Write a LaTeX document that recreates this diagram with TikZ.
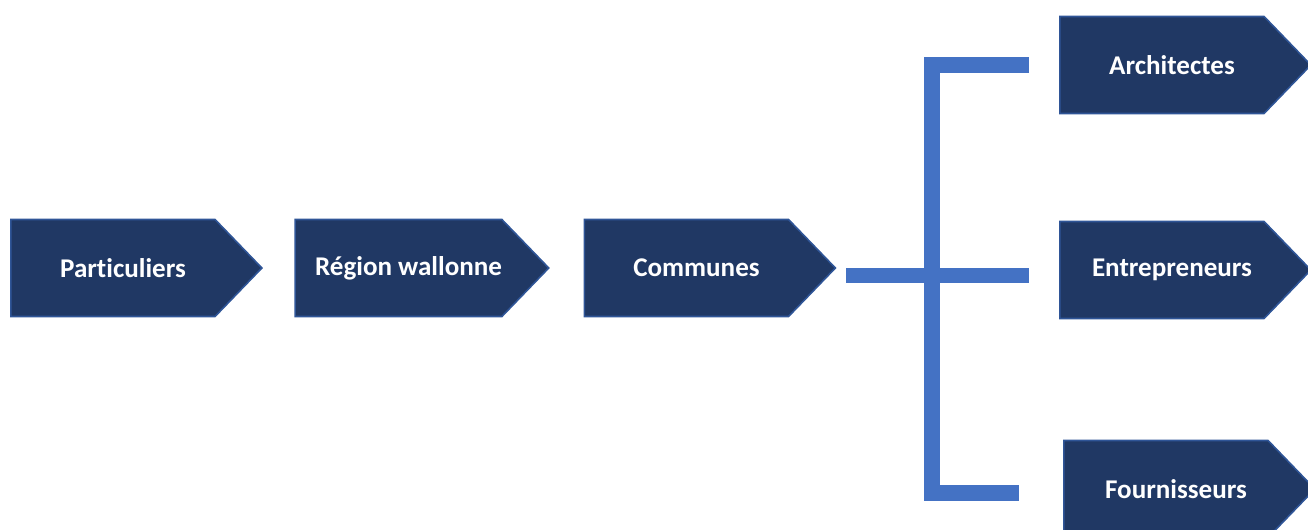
\documentclass[tikz,border=0pt]{standalone}
\usepackage{fontspec}
\setmainfont{Carlito}[Ligatures=NoCommon]
\usetikzlibrary{shapes.symbols,calc}
\definecolor{navy}{HTML}{203864}
\definecolor{navyedge}{HTML}{2F5597}
\definecolor{busblue}{HTML}{4472C4}

\begin{document}
\begin{tikzpicture}[
  x=0.02cm,y=-0.02cm,
  actor/.style={signal,signal to=east,signal pointer angle=92,draw=navyedge,line width=0.9pt,fill=navy,text=white,minimum width=5.02cm,minimum height=1.94cm,inner xsep=0pt,inner ysep=2pt,font=\fontsize{15.4}{18}\selectfont\bfseries,execute at begin node={\hspace*{0.4cm}}},
  bus/.style={draw=busblue,line width=0.32cm}
]
\useasboundingbox (0,0) rectangle (1308,530);
\node[actor] (part) at (113,268) {Particuliers};
\node[actor] (regw) at (398.5,268) {Région wallonne};
\node[actor] (comm) at (686.5,268) {Communes};
\node[actor] (arch) at (1162,65) {Architectes};
\node[actor] (entr) at (1162,270) {Entrepreneurs};
\node[actor] (four) at (1166,489) {Fournisseurs};

\coordinate (hubtop) at (932,65);
\coordinate (hubbot) at (932,493);
\draw[bus] ($(comm.east)+(10,7.5)$) -- ($(entr.west)+(-30,5.5)$);
\draw[bus] ($(arch.west)+(-30,0)$) -- (hubtop) -- (hubbot) -- ($(four.west)+(-44,4)$);
\end{tikzpicture}
\end{document}
